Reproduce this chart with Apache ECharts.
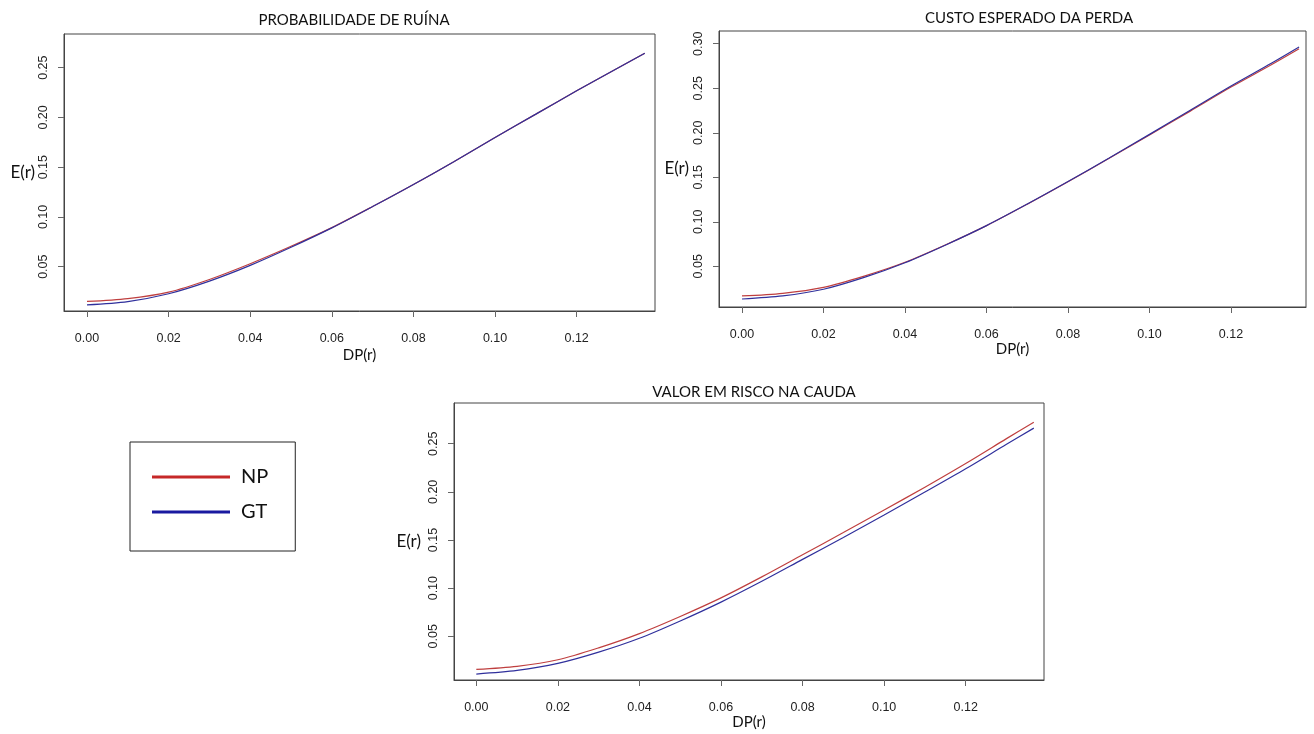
<!DOCTYPE html>
<html>
<head>
<meta charset="utf-8">
<script src="https://cdn.jsdelivr.net/npm/echarts@6/dist/echarts.min.js"></script>
<style>
  html, body { margin: 0; padding: 0; background: #fff; }
  #chart { width: 1314px; height: 734px; }
</style>
</head>
<body>
<div id="chart"></div>
<script>
// DP(r) grid shared by the three panels
const dp = [0, 0.01, 0.02, 0.03, 0.04, 0.05, 0.06, 0.07, 0.08, 0.09, 0.10, 0.11, 0.12, 0.13, 0.1367];

// Probabilidade de ruína
const ruinaNP = [0.0151, 0.0180, 0.0245, 0.0372, 0.0530, 0.0705, 0.0893, 0.1105, 0.1326, 0.1558, 0.1799, 0.2033, 0.2268, 0.2494, 0.2644];
const ruinaGT = [0.0117, 0.0150, 0.0228, 0.0355, 0.0513, 0.0695, 0.0890, 0.1104, 0.1326, 0.1558, 0.1799, 0.2033, 0.2268, 0.2494, 0.2644];

// Custo esperado da perda
const custoNP = [0.0167, 0.0197, 0.0264, 0.0390, 0.0545, 0.0742, 0.0957, 0.1198, 0.1450, 0.1710, 0.1975, 0.2243, 0.2513, 0.2767, 0.2944];
const custoGT = [0.0133, 0.0167, 0.0242, 0.0375, 0.0540, 0.0740, 0.0957, 0.1199, 0.1452, 0.1714, 0.1982, 0.2253, 0.2525, 0.2783, 0.2963];

// Valor em risco na cauda
const caudaNP = [0.0156, 0.0188, 0.0256, 0.0380, 0.0528, 0.0706, 0.0899, 0.1117, 0.1347, 0.1577, 0.1812, 0.2049, 0.2295, 0.2553, 0.2724];
const caudaGT = [0.0108, 0.0145, 0.0218, 0.0335, 0.0479, 0.0659, 0.0855, 0.1071, 0.1299, 0.1527, 0.1760, 0.1998, 0.2240, 0.2494, 0.2662];

const titles = ['PROBABILIDADE DE RUÍNA', 'CUSTO ESPERADO DA PERDA', 'VALOR EM RISCO NA CAUDA'];
const seriesNames = ['NP', 'GT'];
const xTicks = [0, 0.02, 0.04, 0.06, 0.08, 0.10, 0.12];
const yTicks = [
  [0.05, 0.10, 0.15, 0.20, 0.25],
  [0.05, 0.10, 0.15, 0.20, 0.25, 0.30],
  [0.05, 0.10, 0.15, 0.20, 0.25]
];
const xName = 'DP(r)';
const yName = 'E(r)';

const panels = [
  { np: ruinaNP, gt: ruinaGT },
  { np: custoNP, gt: custoGT },
  { np: caudaNP, gt: caudaGT }
];

const lineColors = { NP: '#bf3f3f', GT: '#30309c' };
const legendColors = { NP: '#c62828', GT: '#1a1aa0' };

const grids = [
  { left: 64,  top: 34,  width: 591, height: 277 },
  { left: 719, top: 31,  width: 587, height: 276 },
  { left: 454, top: 403, width: 590, height: 277 }
];
const xRanges = [[-0.00564, 0.1392], [-0.00564, 0.1384], [-0.00547, 0.1392]];
const yRanges = [[0.0055, 0.2838], [0.0043, 0.3143], [0.0046, 0.2923]];
const titlePos = [[349, 8], [1024, 6], [749, 380]];
const xNameGap = [37, 35, 34];
const yNameGap = [28, 30, 33];
const yNamePad = [[0, 0, 14, 0], [0, 0, 2, 0], [9, 0, 0, 0]];

const humanist = 'Lato, "Open Sans", sans-serif';
const arial = '"Liberation Sans", Arial, sans-serif';

const fmt = v => v.toFixed(2);

const axisLineStyle = { show: true, onZero: false, lineStyle: { color: '#444', width: 1 } };

const option = {
  backgroundColor: '#fff',
  animation: false,
  title: titles.map((t, i) => ({
    text: t,
    left: titlePos[i][0],
    top: titlePos[i][1],
    textAlign: 'center',
    textStyle: { fontFamily: humanist, fontWeight: 'normal', fontSize: 15, color: '#111' }
  })),
  legend: {
    orient: 'vertical',
    left: 130,
    top: 442,
    width: 169,
    padding: [23, 27, 27, 22],
    itemGap: 11,
    itemWidth: 78,
    itemHeight: 3,
    icon: 'rect',
    borderColor: '#222',
    borderWidth: 1,
    textStyle: { fontFamily: humanist, fontSize: 20, color: '#111', lineHeight: 24, padding: [0, 0, 0, 6] },
    data: seriesNames.map(n => ({ name: n, itemStyle: { color: legendColors[n] } }))
  },
  grid: grids.map(g => Object.assign({ show: true, borderColor: '#444', borderWidth: 1, containLabel: false }, g)),
  xAxis: grids.map((g, i) => ({
    type: 'value',
    gridIndex: i,
    position: 'bottom',
    min: xRanges[i][0],
    max: xRanges[i][1],
    name: xName,
    nameLocation: 'middle',
    nameGap: xNameGap[i],
    nameTextStyle: { fontFamily: humanist, fontSize: 15, color: '#111' },
    axisLine: axisLineStyle,
    splitLine: { show: false },
    axisTick: { show: true, inside: false, length: 6, customValues: xTicks, lineStyle: { color: '#666' } },
    axisLabel: { customValues: xTicks, formatter: fmt, margin: 21, fontFamily: arial, fontSize: 12.5, color: '#222' }
  })),
  yAxis: grids.map((g, i) => ({
    type: 'value',
    gridIndex: i,
    position: 'left',
    min: yRanges[i][0],
    max: yRanges[i][1],
    name: yName,
    nameLocation: 'middle',
    nameRotate: 0,
    nameGap: yNameGap[i],
    nameTextStyle: { fontFamily: humanist, fontSize: 17, color: '#111', padding: yNamePad[i] },
    axisLine: axisLineStyle,
    splitLine: { show: false },
    axisTick: { show: true, inside: false, length: 6, customValues: yTicks[i], lineStyle: { color: '#666' } },
    axisLabel: { customValues: yTicks[i], formatter: fmt, rotate: 90, margin: 14, fontFamily: arial, fontSize: 12.5, color: '#222' }
  })),
  series: []
};

panels.forEach((p, i) => {
  seriesNames.forEach(name => {
    const vals = name === 'NP' ? p.np : p.gt;
    option.series.push({
      type: 'line',
      name: name,
      xAxisIndex: i,
      yAxisIndex: i,
      data: dp.map((x, k) => [x, vals[k]]),
      smooth: 0.3,
      showSymbol: false,
      lineStyle: { color: lineColors[name], width: 1.2 },
      itemStyle: { color: lineColors[name] }
    });
  });
});

const chart = echarts.init(document.getElementById('chart'), null, { renderer: 'canvas' });
chart.setOption(option);
</script>
</body>
</html>
